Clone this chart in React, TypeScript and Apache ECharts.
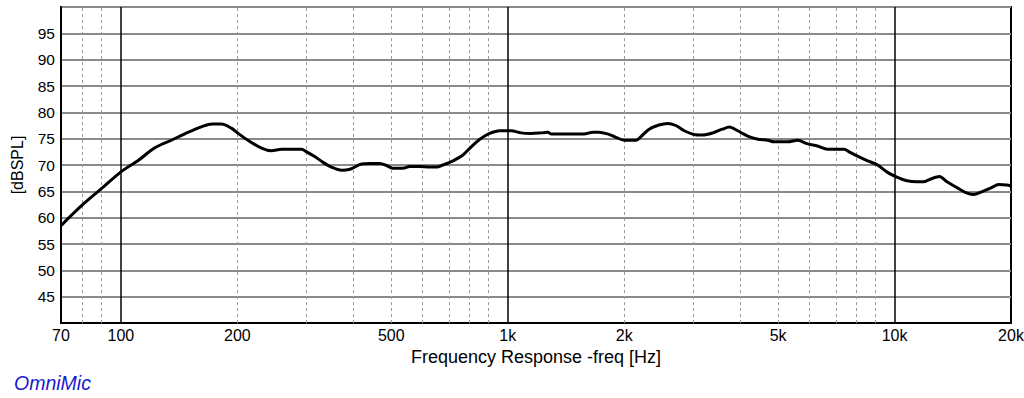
import React, { useEffect, useRef } from "react";
import * as echarts from "echarts";

const freqHz = [
  70, 80, 90, 100, 111, 122, 135, 149, 162, 172, 182, 193, 201, 213, 231, 245,
  260, 276, 293, 302, 317, 333, 350, 372, 391, 419, 440, 467, 486, 504, 536,
  558, 592, 629, 655, 680, 722, 766, 806, 847, 898, 954, 1020, 1082, 1149,
  1219, 1271, 1294, 1414, 1575, 1660, 1720, 1810, 1900, 2000, 2150, 2210, 2320,
  2460, 2590, 2720, 2860, 3030, 3190, 3390, 3590, 3740, 3930, 4170, 4430,
  4700, 4880, 5300, 5620, 5960, 6320, 6710, 7410, 7630, 8020, 8520, 9040,
  9590, 10140, 10770, 11430, 11880, 12360, 13070, 13660, 14490, 15230, 16000,
  16800, 17700, 18600, 19500, 20000,
];
const splDb = [
  58.5, 62.6, 65.8, 68.7, 70.9, 73.2, 74.7, 76.2, 77.3, 77.8, 77.8, 77.0, 76.0,
  74.7, 73.2, 72.7, 73.0, 73.0, 73.0, 72.5, 71.6, 70.5, 69.6, 69.0, 69.2, 70.2,
  70.3, 70.3, 69.9, 69.4, 69.4, 69.7, 69.7, 69.6, 69.6, 70.0, 70.8, 71.9, 73.5,
  74.9, 76.0, 76.5, 76.5, 76.1, 76.0, 76.1, 76.2, 75.9, 75.9, 75.9, 76.2, 76.2,
  75.9, 75.3, 74.7, 74.7, 75.4, 76.8, 77.6, 77.9, 77.5, 76.5, 75.8, 75.7, 76.1,
  76.8, 77.2, 76.5, 75.5, 74.9, 74.7, 74.4, 74.4, 74.7, 74.0, 73.6, 73.0, 73.0,
  72.5, 71.7, 70.8, 70.0, 68.6, 67.7, 67.0, 66.8, 66.8, 67.3, 67.8, 66.8, 65.7,
  64.8, 64.4, 64.9, 65.6, 66.3, 66.2, 66.0,
];
const xTickLabels = [70, 100, 200, 500, 1000, 2000, 5000, 10000, 20000];
const decadeLines = [100, 1000, 10000];
const minorLines = [
  80, 90, 200, 300, 400, 500, 600, 700, 800, 900, 2000, 3000, 4000, 5000, 6000,
  7000, 8000, 9000,
];

const fmtFreq = (f: number) =>
  f >= 1000 ? `${Math.round(f / 1000)}k` : `${Math.round(f)}`;

export default function App() {
  const ref = useRef<HTMLDivElement>(null);
  useEffect(() => {
    if (!ref.current) return;
    const chart = echarts.init(ref.current, undefined, { renderer: "svg" });
    const font = "'Liberation Sans', Arial, Helvetica, sans-serif";
    const lg = Math.log10;
    chart.setOption({
      animation: false,
      backgroundColor: "#ffffff",
      textStyle: { fontFamily: font },
      grid: {
        left: 61,
        top: 7,
        width: 950,
        height: 316,
        containLabel: false,
        outerBoundsMode: "none",
        show: true,
        borderColor: "#000",
        borderWidth: 2,
        backgroundColor: "transparent",
      },
      xAxis: {
        type: "value",
        min: lg(70),
        max: lg(20000),
        axisLine: { show: true, onZero: false, lineStyle: { color: "#000", width: 2 } },
        axisTick: { show: false },
        splitLine: { show: false },
        axisLabel: {
          customValues: xTickLabels.map((f) => lg(f)),
          formatter: (v: number) => fmtFreq(Math.pow(10, v)),
          color: "#000",
          fontSize: 16,
          margin: 4,
          fontFamily: font,
          showMinLabel: true,
          showMaxLabel: true,
        },
        name: "Frequency Response -freq [Hz]",
        nameLocation: "middle",
        nameGap: 21,
        nameTextStyle: { color: "#000", fontSize: 18, fontFamily: font },
      },
      yAxis: {
        type: "value",
        min: 40,
        max: 100,
        interval: 5,
        axisLine: { show: true, lineStyle: { color: "#000", width: 2 } },
        axisTick: { show: false },
        splitLine: { show: true, lineStyle: { color: "#8a8a8a", width: 2 } },
        axisLabel: {
          formatter: (v: number) => (v === 40 || v === 100 ? "" : String(v)),
          color: "#000",
          fontSize: 15.5,
          margin: 6,
          fontFamily: font,
        },
        name: "[dBSPL]",
        nameLocation: "middle",
        nameGap: 36,
        nameRotate: 90,
        nameTextStyle: { color: "#000", fontSize: 16, fontFamily: font },
      },
      series: [
        {
          type: "line",
          data: [],
          silent: true,
          markLine: {
            silent: true,
            symbol: "none",
            label: { show: false },
            animation: false,
            data: [
              ...minorLines.map((f) => ({
                xAxis: lg(f),
                lineStyle: { color: "#9a9a9a", width: 1, type: [3, 3] },
              })),
              ...decadeLines.map((f) => ({
                xAxis: lg(f),
                lineStyle: { color: "#000", width: 1.5, type: "solid" },
              })),
            ],
          },
        },
        {
          type: "line",
          data: freqHz.map((f, i) => [lg(f), splDb[i]]),
          showSymbol: false,
          smooth: 0.3,
          lineStyle: { color: "#000", width: 3 },
          z: 5,
        },
      ],
      graphic: [
        {
          type: "text",
          left: 14,
          top: 373,
          style: {
            text: "OmniMic",
            fill: "#1a1ad0",
            fontSize: 19.5,
            fontStyle: "italic",
            fontFamily: font,
          },
        },
      ],
    });
    return () => chart.dispose();
  }, []);
  return (
    <div
      ref={ref}
      style={{ position: "fixed", left: 0, top: 0, width: 1024, height: 398 }}
    />
  );
}
